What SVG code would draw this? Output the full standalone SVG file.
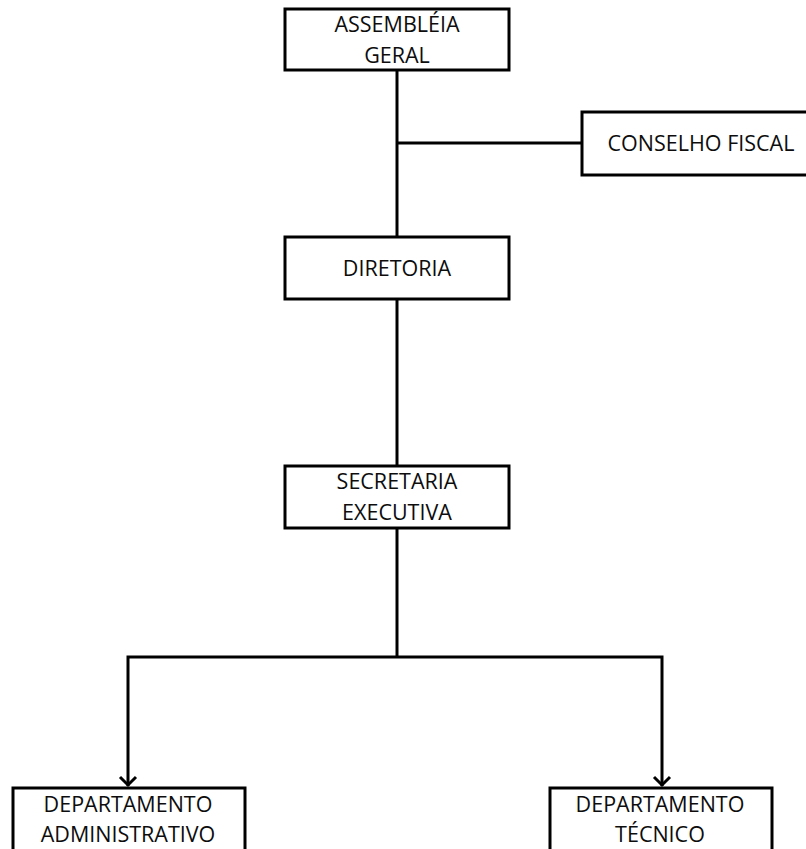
<svg xmlns="http://www.w3.org/2000/svg" width="806" height="849" viewBox="0 0 806 849">
  <style>
    .box { fill: #ffffff; stroke: #000000; stroke-width: 3; }
    .lbl { font-family: "Open Sans", "Liberation Sans", sans-serif; font-size: 21.5px; fill: #0d0d0d; text-anchor: middle; }
    .conn { fill: none; stroke: #000000; stroke-width: 3; }
  </style>
  <defs>
    <marker id="arrow" viewBox="0 0 20 20" refX="12" refY="10" markerWidth="20" markerHeight="20" markerUnits="userSpaceOnUse" orient="auto">
      <path d="M3,2 L11,10 L3,18" fill="none" stroke="#000000" stroke-width="3"/>
    </marker>
  </defs>
  <rect width="806" height="849" fill="#ffffff"/>

  <g id="connectors">
    <line class="conn" x1="397" y1="70" x2="397" y2="237"/>
    <line class="conn" x1="397" y1="143" x2="582" y2="143"/>
    <line class="conn" x1="397" y1="299" x2="397" y2="466"/>
    <line class="conn" x1="397" y1="528" x2="397" y2="657"/>
    <path class="conn" d="M397,657 L128,657 L128,786" marker-end="url(#arrow)"/>
    <path class="conn" d="M397,657 L662,657 L662,786" marker-end="url(#arrow)"/>
  </g>

  <g id="assembleia">
    <rect class="box" x="285" y="9" width="224" height="61"/>
    <text class="lbl" x="397" y="32">ASSEMBLÉIA</text>
    <text class="lbl" x="397" y="63">GERAL</text>
  </g>

  <g id="conselho">
    <rect class="box" x="582" y="112" width="240" height="63"/>
    <text class="lbl" x="701" y="151">CONSELHO FISCAL</text>
  </g>

  <g id="diretoria">
    <rect class="box" x="285" y="237" width="224" height="62"/>
    <text class="lbl" x="397" y="276">DIRETORIA</text>
  </g>

  <g id="secretaria">
    <rect class="box" x="285" y="466" width="224" height="62"/>
    <text class="lbl" x="397" y="489">SECRETARIA</text>
    <text class="lbl" x="397" y="520">EXECUTIVA</text>
  </g>

  <g id="dep-administrativo">
    <rect class="box" x="13" y="788" width="232" height="80"/>
    <text class="lbl" x="128" y="812">DEPARTAMENTO</text>
    <text class="lbl" x="128" y="842">ADMINISTRATIVO</text>
  </g>

  <g id="dep-tecnico">
    <rect class="box" x="550" y="788" width="222" height="80"/>
    <text class="lbl" x="660" y="812">DEPARTAMENTO</text>
    <text class="lbl" x="660" y="842">TÉCNICO</text>
  </g>
</svg>
